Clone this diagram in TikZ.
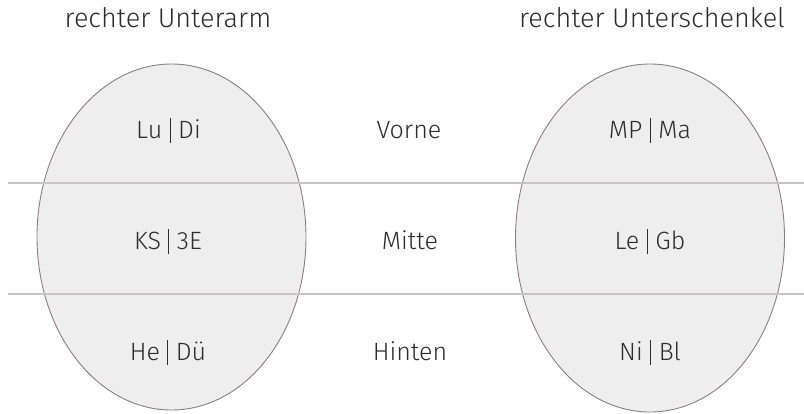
\documentclass[tikz,border=0pt]{standalone}
\usepackage{fontspec}
\setmainfont{Fira Sans Light}
\newcommand{\sepbar}{\hspace{7.5pt}\rule[-5pt]{1pt}{25pt}\hspace{7.5pt}}
\begin{document}
\begin{tikzpicture}[x=1pt,y=-1pt,
  limb/.style={draw={rgb,255:red,140;green,125;blue,130},fill={rgb,255:red,238;green,238;blue,238},line width=0.9pt},
  sep/.style={draw={rgb,255:red,200;green,196;blue,198},line width=1.3pt},
  lbl/.style={text={rgb,255:red,45;green,45;blue,45},font=\fontsize{25}{30}\selectfont,inner sep=0pt,anchor=base},
  ttl/.style={text={rgb,255:red,45;green,45;blue,45},font=\fontsize{27}{32}\selectfont,inner sep=0pt,anchor=base}]
\useasboundingbox (0,0) rectangle (804,413);
\path[limb] (171.5,237) ellipse [x radius=134.5, y radius=173];
\path[limb] (650,238) ellipse [x radius=134.5, y radius=174];
\coordinate (l1a) at (8,183); \coordinate (l1b) at (804,183);
\coordinate (l2a) at (8,294); \coordinate (l2b) at (804,294);
\draw[sep] (l1a) -- (l1b);
\draw[sep] (l2a) -- (l2b);
\node[ttl] (t1) at (168,27) {rechter Unterarm};
\node[ttl] (t2) at (652,27) {rechter Unterschenkel};
\node[lbl] (a1) at (168.5,138) {Lu\sepbar Di};
\node[lbl] (a2) at (168,249) {KS\sepbar 3E};
\node[lbl] (a3) at (168,360) {He\sepbar Dü};
\node[lbl] (m1) at (409,138) {Vorne};
\node[lbl] (m2) at (410,249) {Mitte};
\node[lbl] (m3) at (410,360) {Hinten};
\node[lbl] (b1) at (650,138) {MP\sepbar Ma};
\node[lbl] (b2) at (650,249) {Le\sepbar Gb};
\node[lbl] (b3) at (650,360) {Ni\sepbar Bl};
\end{tikzpicture}
\end{document}
